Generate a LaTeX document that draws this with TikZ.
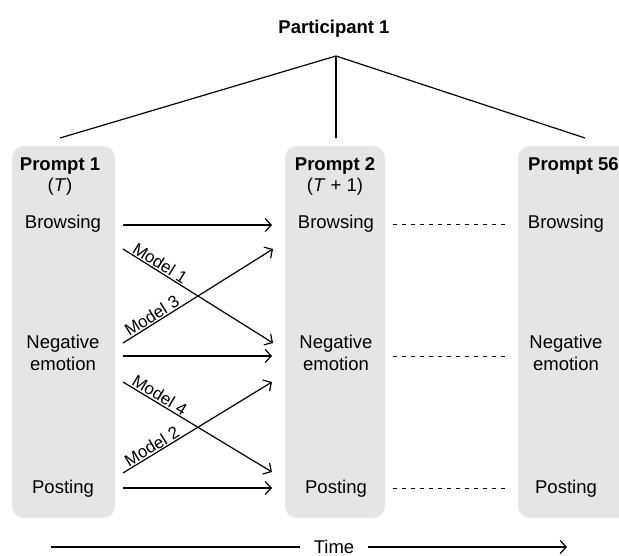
\documentclass[tikz,border=0pt]{standalone}
\usepackage{fontspec}
\setmainfont{Liberation Sans}
\usetikzlibrary{arrows.meta}
\begin{document}
\begin{tikzpicture}[x=1pt,y=-1pt,
  panel/.style={fill=black!10, draw=none, rounded corners=12pt},
  lbl/.style={font=\fontsize{18.5}{22}\selectfont, align=center, inner sep=0pt},
  hdr/.style={font=\fontsize{18.5}{22}\selectfont\bfseries, align=center, inner sep=0pt},
  mdl/.style={font=\fontsize{17}{20}\selectfont, sloped, above, inner sep=1pt},
  conn/.style={line width=1.2pt, -{Straight Barb[length=6pt,width=13pt,line width=1.2pt]}},
  tree/.style={line width=1.2pt},
  dots/.style={line width=1pt, dash pattern=on 4pt off 5pt}]
\useasboundingbox (0,0) rectangle (619,556);
% panels
\fill[panel] (12,146) rectangle (115,518);
\fill[panel] (285,146) rectangle (385,518);
\fill[panel] (518,146) rectangle (640,518);
% title and tree
\node[hdr] (part) at (334,29) {Participant 1};
\coordinate (apex) at (336,56);
\coordinate (l1) at (60,138);
\coordinate (l2) at (336,138);
\coordinate (l3) at (585,138);
\draw[tree] (l1) -- (apex) -- (l3);
\draw[tree] (apex) -- (l2);
% headers
\node[hdr] (h1) at (60,166) {Prompt 1};
\node[lbl] (t1) at (60,187) {(\textit{T})};
\node[hdr] (h2) at (335,166) {Prompt 2};
\node[lbl] (t2) at (335,187) {(\textit{T} + 1)};
\node[hdr, anchor=west] (h3) at (528,166) {Prompt 56};
% states
\node[lbl] (b1) at (63,224) {Browsing};
\node[lbl] (n1) at (63,353) {Negative\\emotion};
\node[lbl] (p1) at (63,489) {Posting};
\node[lbl] (b2) at (336,224) {Browsing};
\node[lbl] (n2) at (336,353) {Negative\\emotion};
\node[lbl] (p2) at (336,489) {Posting};
\node[lbl] (b3) at (566,224) {Browsing};
\node[lbl] (n3) at (566,353) {Negative\\emotion};
\node[lbl] (p3) at (566,489) {Posting};
% arrow end points
\coordinate (sb) at (123,225);
\coordinate (eb) at (272,225);
\coordinate (sn) at (123,356);
\coordinate (en) at (272,356);
\coordinate (sp) at (123,488);
\coordinate (ep) at (272,488);
\coordinate (s1) at (123,249);
\coordinate (e1) at (273,343);
\coordinate (s3) at (123,343);
\coordinate (e3) at (273,249);
\coordinate (s4) at (123,382);
\coordinate (e4) at (272,472);
\coordinate (s2) at (123,473);
\coordinate (e2) at (272,382);
\draw[conn] (sb) -- (eb);
\draw[conn] (sn) -- (en);
\draw[conn] (sp) -- (ep);
\draw[conn] (s1) -- node[mdl, pos=0.22] (m1) {Model 1} (e1);
\draw[conn] (s3) -- node[mdl, pos=0.22] (m3) {Model 3} (e3);
\draw[conn] (s4) -- node[mdl, pos=0.22] (m4) {Model 4} (e4);
\draw[conn] (s2) -- node[mdl, pos=0.22] (m2) {Model 2} (e2);
% dotted continuations
\coordinate (db1) at (393,225);
\coordinate (db2) at (510,225);
\coordinate (dn1) at (393,356);
\coordinate (dn2) at (510,356);
\coordinate (dp1) at (393,488);
\coordinate (dp2) at (510,488);
\draw[dots] (db1) -- (db2);
\draw[dots] (dn1) -- (dn2);
\draw[dots] (dp1) -- (dp2);
% time axis
\node[lbl] (time) at (334,547) {Time};
\coordinate (ta) at (51,547);
\coordinate (tb) at (567,547);
\draw[tree] (ta) -- ([xshift=-14pt]time.west);
\draw[conn] ([xshift=14pt]time.east) -- (tb);
\end{tikzpicture}
\end{document}
